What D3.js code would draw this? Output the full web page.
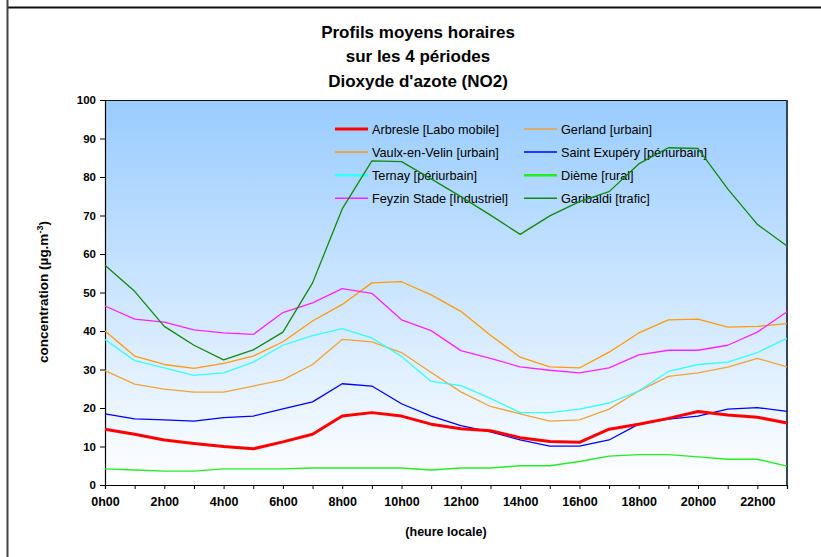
<!DOCTYPE html>
<html><head><meta charset="utf-8">
<script src="https://cdn.jsdelivr.net/npm/d3@7"></script>
<style>
html,body{margin:0;padding:0;background:#fff;}
svg{display:block;font-family:"Liberation Sans",Arial,sans-serif;}
</style></head>
<body>
<svg id="chart" width="821" height="557"></svg>
<script>
const hours = d3.range(0, 24);
const xTickLabels = ["0h00","2h00","4h00","6h00","8h00","10h00","12h00","14h00","16h00","18h00","20h00","22h00"];
const yTicks = [0,10,20,30,40,50,60,70,80,90,100];
const titleLines = ["Profils moyens horaires","sur les 4 périodes","Dioxyde d'azote (NO2)"];

const seriesNames = ["Arbresle [Labo mobile]","Gerland [urbain]","Vaulx-en-Velin [urbain]","Saint Exupéry [périurbain]","Ternay [périurbain]","Dième [rural]","Feyzin Stade [Industriel]","Garibaldi [trafic]"];
const seriesColors = ["#FF0000","#F2A23A","#FF9A0A","#0000FF","#33FFFF","#22EE22","#FF22FF","#118811"];

const arbresle  = [14.5,13.2,11.7,10.8,10.0,9.4,11.2,13.2,17.9,18.8,17.9,15.8,14.6,14.1,12.3,11.3,11.1,14.5,15.8,17.3,19.1,18.2,17.6,16.1];
const gerland   = [29.7,26.2,24.9,24.1,24.1,25.7,27.3,31.3,37.8,37.2,34.4,29.2,24.2,20.4,18.5,16.6,16.9,19.7,24.4,28.2,29.1,30.6,32.9,30.7];
const vaulx     = [40.0,33.5,31.3,30.3,31.6,33.5,37.2,42.6,46.9,52.5,52.8,49.4,45.1,38.9,33.2,30.7,30.4,34.5,39.5,42.9,43.1,41.0,41.2,41.9];
const exupery   = [18.5,17.2,16.9,16.6,17.5,17.9,19.8,21.6,26.3,25.7,21.1,17.9,15.4,13.8,11.7,10.1,10.1,11.7,15.8,17.1,17.9,19.7,20.1,19.1];
const ternay    = [37.8,32.3,30.4,28.5,29.1,31.9,36.3,38.8,40.6,38.2,33.4,26.9,25.8,22.5,18.8,18.8,19.7,21.3,24.4,29.5,31.3,31.9,34.4,38.1];
const dieme     = [4.2,3.9,3.6,3.6,4.2,4.2,4.2,4.4,4.4,4.4,4.4,3.9,4.4,4.4,5.0,5.0,6.1,7.5,7.9,7.9,7.3,6.7,6.7,4.9];
const feyzin    = [46.5,43.1,42.3,40.3,39.5,39.1,44.8,47.3,51.0,49.8,42.9,40.1,34.9,32.9,30.7,29.8,29.1,30.4,33.8,35.0,35.0,36.3,39.7,45.0];
const garibaldi = [57.1,50.3,41.2,36.3,32.5,35.1,39.7,52.5,71.7,84.2,84.0,79.5,74.9,70.1,65.1,69.9,73.6,76.2,83.4,87.6,87.4,76.9,67.7,62.1];

const seriesValues = [arbresle,gerland,vaulx,exupery,ternay,dieme,feyzin,garibaldi];
const seriesWidths = [3,1.3,1.3,1.3,1.3,1.4,1.3,1.3];
const legendWidths = [3,1.5,1.5,1.5,2.5,2.5,1.5,1.5];

const svg = d3.select("#chart");
const m = {left:105, right:787, top:100, bottom:485};

// frame
svg.append("line").attr("x1",7).attr("x2",821).attr("y1",7.5).attr("y2",7.5).attr("stroke","#111").attr("stroke-width",2);
svg.append("line").attr("x1",7.5).attr("x2",7.5).attr("y1",0).attr("y2",557).attr("stroke","#444").attr("stroke-width",2);

const x = d3.scaleLinear().domain([0,23]).range([m.left,m.right]);
const y = d3.scaleLinear().domain([0,100]).range([m.bottom,m.top]);

const defs = svg.append("defs");
const grad = defs.append("linearGradient").attr("id","bg").attr("x1",0).attr("y1",0).attr("x2",0).attr("y2",1);
grad.append("stop").attr("offset","0%").attr("stop-color","#99CCFF");
grad.append("stop").attr("offset","100%").attr("stop-color","#FFFFFF");

svg.append("rect").attr("x",m.left).attr("y",m.top).attr("width",m.right-m.left).attr("height",m.bottom-m.top).attr("fill","url(#bg)");
svg.append("line").attr("x1",m.left).attr("x2",m.right).attr("y1",m.top+0.5).attr("y2",m.top+0.5).attr("stroke","#111").attr("stroke-width",1.2);
svg.append("line").attr("x1",m.right).attr("x2",m.right).attr("y1",m.top).attr("y2",m.bottom).attr("stroke","#34465a").attr("stroke-width",2);

// title
svg.append("g").selectAll("text").data(titleLines).join("text")
  .attr("x",418).attr("y",(d,i)=>37.5+i*24.5).attr("text-anchor","middle")
  .attr("font-weight","bold").attr("font-size","17px").attr("fill","#000").text(d=>d);

// axes
const yAxis = d3.axisLeft(y).tickValues(yTicks).tickSize(5).tickPadding(4).tickFormat(d3.format("d"));
const gy = svg.append("g").attr("transform",`translate(${m.left},0)`).call(yAxis);
gy.select(".domain").attr("stroke","#000").attr("stroke-width",1.2);
gy.selectAll("text").attr("font-size","11.5px").attr("font-weight","bold").attr("font-family","Liberation Sans, Arial, sans-serif").attr("fill","#000");

const xAxis = d3.axisBottom(x).tickValues(hours).tickSize(4).tickPadding(8)
  .tickFormat(d => d%2===0 ? xTickLabels[d/2] : "");
const gx = svg.append("g").attr("transform",`translate(0,${m.bottom})`).call(xAxis);
gx.select(".domain").attr("stroke","#000").attr("stroke-width",1.2);
gx.selectAll("text").attr("font-size","12.5px").attr("font-weight","bold").attr("font-family","Liberation Sans, Arial, sans-serif").attr("fill","#000");

svg.append("text").attr("x",(m.left+m.right)/2).attr("y",536).attr("text-anchor","middle")
  .attr("font-weight","bold").attr("font-size","12.5px").text("(heure locale)");

const yt = svg.append("text").attr("transform","translate(48,292) rotate(-90)").attr("text-anchor","middle")
  .attr("font-weight","bold").attr("font-size","13.5px");
yt.append("tspan").text("concentration (µg.m");
yt.append("tspan").attr("dy",-5).attr("font-size","9px").text("-3");
yt.append("tspan").attr("dy",5).text(")");

// legend
const lg = svg.append("g");
seriesNames.forEach((name,i)=>{
  const col = i%2, row = Math.floor(i/2);
  const lx = col===0 ? 335 : 524;
  const ly = 129 + row*23.1;
  lg.append("line").attr("x1",lx).attr("x2",lx+33).attr("y1",ly).attr("y2",ly)
    .attr("stroke",seriesColors[i]).attr("stroke-width",legendWidths[i]);
  lg.append("text").attr("x",lx+37).attr("y",ly+4.5).attr("font-size","12.7px").attr("fill","#000").text(name);
});

// lines
const line = d3.line().x((d,i)=>x(hours[i])).y(d=>y(d));
const order = [1,2,3,4,5,6,7,0];
svg.append("g").selectAll("path").data(order).join("path")
  .attr("d",i=>line(seriesValues[i])).attr("fill","none")
  .attr("stroke",i=>seriesColors[i]).attr("stroke-width",i=>seriesWidths[i])
  .attr("stroke-linejoin","round");
</script>
</body></html>
